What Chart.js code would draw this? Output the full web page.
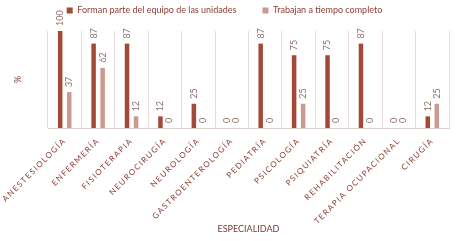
<!DOCTYPE html>
<html>
<head>
<meta charset="utf-8">
<script src="https://cdn.jsdelivr.net/npm/chart.js@4"></script>
<style>
  html, body { margin: 0; padding: 0; background: #fff; }
  #wrap { width: 473px; height: 241px; }
</style>
</head>
<body>
<div id="wrap"><canvas id="myChart" width="473" height="241"></canvas></div>
<script>
const categories = ['ANESTESIOLOGÍA', 'ENFERMERÍA', 'FISIOTERAPIA', 'NEUROCIRUGÍA', 'NEUROLOGÍA',
  'GASTROENTEROLOGÍA', 'PEDIATRÍA', 'PSICOLOGÍA', 'PSIQUIATRÍA', 'REHABILITACIÓN',
  'TERAPIA OCUPACIONAL', 'CIRUGÍA'];
const formanParte = [100, 87, 87, 12, 25, 0, 87, 75, 75, 87, 0, 12];
const tiempoCompleto = [37, 62, 12, 0, 0, 0, 0, 25, 0, 0, 0, 25];

const fontFamily = 'Lato, "Open Sans", sans-serif';

// vertical value labels above each bar
const barLabels = {
  id: 'barLabels',
  afterInit(chart) {
    // wider gap between legend items without a tall legend box
    const lg = chart.legend;
    const fit = lg.fit;
    lg.fit = function () { fit.call(this); this.height = 51; };
  },
  afterLayout(chart) {
    // letter spaced category labels
    const s = chart.scales.x;
    if (!s._spaced) {
      const orig = s.drawLabels;
      s.drawLabels = function (area) {
        chart.ctx.letterSpacing = '1.4px';
        orig.call(this, area);
        chart.ctx.letterSpacing = '0px';
      };
      s._spaced = true;
    }
  },
  afterDatasetsDraw(chart) {
    const ctx = chart.ctx;
    ctx.save();
    ctx.font = '9px ' + fontFamily;
    ctx.fillStyle = '#8d7069';
    ctx.textAlign = 'left';
    ctx.textBaseline = 'middle';
    chart.data.datasets.forEach((ds, i) => {
      chart.getDatasetMeta(i).data.forEach((bar, j) => {
        ctx.save();
        ctx.translate(bar.x, bar.y - 5);
        ctx.rotate(-Math.PI / 2);
        ctx.fillText(String(ds.data[j]), 0, 0);
        ctx.restore();
      });
    });
    ctx.restore();
  }
};

const ctx = document.getElementById('myChart').getContext('2d');
const chart = new Chart(ctx, {
  type: 'bar',
  data: {
    labels: categories,
    datasets: [{
      label: 'Forman parte del equipo de las unidades',
      data: formanParte,
      backgroundColor: '#a4493a'
    }, {
      label: 'Trabajan a tiempo completo',
      data: tiempoCompleto,
      backgroundColor: '#c99a8f'
    }]
  },
  options: {
    responsive: false,
    animation: false,
    layout: { padding: { top: -20, right: 24, left: 0, bottom: 7 } },
    datasets: { bar: { categoryPercentage: 0.54, barPercentage: 0.5 } },
    plugins: {
      tooltip: { enabled: false },
      legend: {
        position: 'top',
        labels: {
          font: { family: fontFamily, size: 9 },
          color: '#8b3e33',
          boxWidth: 6,
          boxHeight: 6,
          padding: 26
        }
      }
    },
    scales: {
      x: {
        grid: { offset: true, color: '#e8dcdc', drawTicks: false },
        border: { color: '#ddd0d0' },
        ticks: {
          font: { family: fontFamily, size: 8 },
          color: '#8b3e33',
          minRotation: 45,
          maxRotation: 45,
          autoSkip: false,
          padding: 8
        },
        title: {
          display: true,
          text: 'ESPECIALIDAD',
          font: { family: fontFamily, size: 9 },
          color: '#7a3b30',
          padding: { top: 4, bottom: 0 }
        },
        afterFit(s) { s.height = 106; }
      },
      y: {
        min: 0,
        max: 100,
        grid: { display: false },
        border: { display: false },
        ticks: { display: false },
        title: {
          display: true,
          text: '%',
          font: { family: fontFamily, size: 9 },
          color: '#7a3b30',
          padding: { top: 13, bottom: 0 }
        },
        afterFit(s) { s.width = 48; }
      }
    }
  },
  plugins: [barLabels]
});
</script>
</body>
</html>
